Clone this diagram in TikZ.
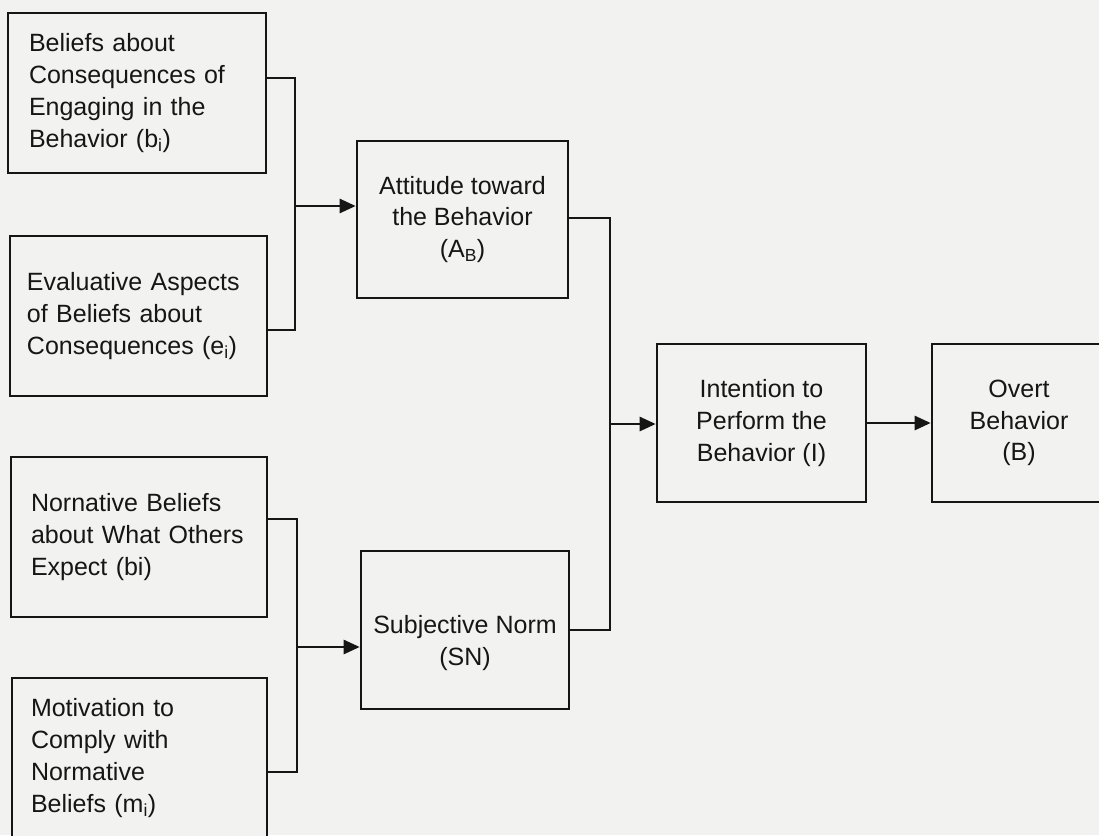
\documentclass[tikz,border=0pt]{standalone}
\usepackage{fontspec}
\setmainfont{Liberation Sans}
\usetikzlibrary{arrows.meta,calc}
\definecolor{paper}{RGB}{242,242,240}
\definecolor{ink}{RGB}{22,22,22}
\begin{document}
\begin{tikzpicture}[x=1pt,y=-1pt,
  box/.style={draw=ink, line width=2.6pt, fill=paper, text=ink,
    inner ysep=0pt, minimum height=160pt,
    font=\fontsize{25}{31.7}\selectfont},
  lbox/.style={box, align=left},
  cbox/.style={box, align=center, inner xsep=0pt},
  link/.style={draw=ink, line width=2.6pt},
  flow/.style={link, -{Triangle[length=16pt,width=14pt]}}]

\useasboundingbox (0,0) rectangle (1099,835);
\clip (0,0) rectangle (1099,835);
\fill[paper] (0,0) rectangle (1099,835);

% belief inputs (left column)
\node[lbox, inner xsep=21pt, text width=216pt] (b1) at (137,93)
  {Beliefs about\\Consequences of\\Engaging in the\\Behavior (b\textsubscript{i})};
\node[lbox, inner xsep=17pt, text width=223pt] (b2) at (138.5,316)
  {Evaluative Aspects\\of Beliefs about\\Consequences (e\textsubscript{i})};
\node[lbox, inner xsep=20pt, text width=216pt] (b3) at (139,537)
  {Nornative Beliefs\\about What Others\\Expect (bi)};
\node[lbox, inner xsep=19pt, text width=217pt] (b4) at (139.5,758)
  {Motivation to\\Comply with\\Normative\\Beliefs (m\textsubscript{i})};

% attitude and norm
\node[cbox, minimum width=211pt, minimum height=157pt] (b5) at (462.5,219.5)
  {Attitude toward\\the Behavior\\(A\textsubscript{B})};
\node[cbox, minimum width=208pt, minimum height=158pt] (b6) at (465,630)
  {\rule{0pt}{44pt}Subjective Norm\\(SN)};

% intention and behaviour
\node[cbox, minimum width=209pt, minimum height=158pt] (b7) at (761.5,423)
  {Intention to\\Perform the\\Behavior (I)};
\node[cbox, minimum width=174pt, minimum height=158pt] (b8) at (1019,423)
  {Overt\\Behavior\\(B)};

% junctions
\coordinate (ja) at (295,78);
\coordinate (jb) at (295,330);
\coordinate (jm) at (295,206);
\coordinate (ka) at (297,519);
\coordinate (kb) at (297,772);
\coordinate (km) at (297,647);
\coordinate (la) at (610,218);
\coordinate (lb) at (610,630);
\coordinate (lm) at (610,424);

\draw[link] (b1.east |- ja) -- (ja) -- (jb) -- (b2.east |- jb);
\draw[flow] (jm) -- (b5.west |- jm);

\draw[link] (b3.east |- ka) -- (ka) -- (kb) -- (b4.east |- kb);
\draw[flow] (km) -- (b6.west |- km);

\draw[link] (b5.east |- la) -- (la) -- (lb) -- (b6.east |- lb);
\draw[flow] (lm) -- (b7.west |- lm);

\draw[flow] (b7.east) -- (b8.west |- b7.east);
\end{tikzpicture}
\end{document}
